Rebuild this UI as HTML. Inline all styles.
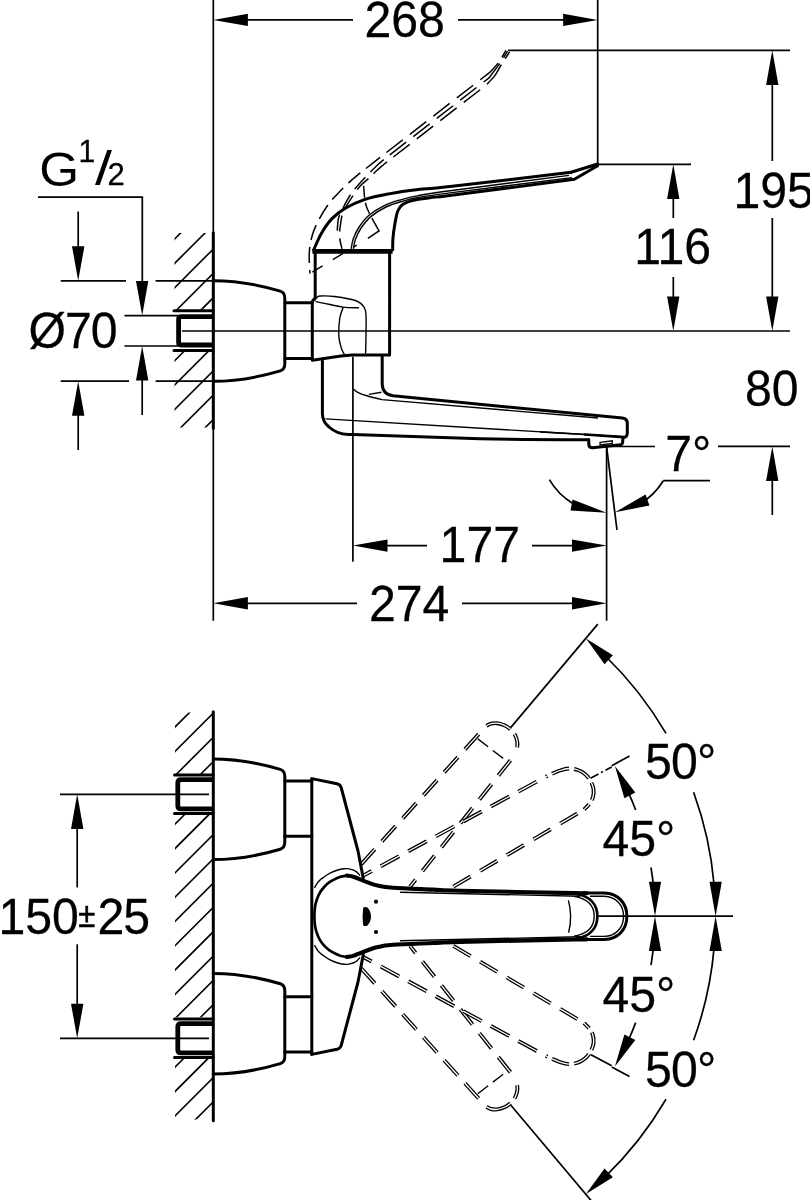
<!DOCTYPE html>
<html><head><meta charset="utf-8"><title>Drawing</title>
<style>
html,body{margin:0;padding:0;background:#fff;}
body{width:810px;height:1200px;overflow:hidden;}
svg{display:block;will-change:transform;}
svg text{font-family:"Liberation Sans",sans-serif;fill:#000;}
.t{stroke:#000;stroke-width:1.7;fill:none;}
.m{stroke:#000;stroke-width:3.0;fill:none;stroke-linejoin:round;stroke-linecap:round;}
.k{stroke:#000;stroke-width:4.8;fill:none;stroke-linejoin:round;}
.a{fill:#000;stroke:none;}
.f{stroke:#000;stroke-width:1.4;fill:none;}
.k2{stroke:#000;stroke-width:4.1;fill:none;stroke-linejoin:round;stroke-linecap:round;}
.n{stroke:#000;stroke-width:2.7;fill:none;stroke-linejoin:round;stroke-linecap:round;}
.d{stroke:#000;stroke-width:1;fill:none;stroke-dasharray:22 9;}
.h{stroke:#000;stroke-width:1.6;fill:none;}
</style></head><body>
<svg width="810" height="1200" viewBox="0 0 810 1200">
<path d="M361.1,864.4 L484.4,727.8" fill="none" stroke="#000" stroke-width="3.9" stroke-dasharray="20.5 10.5" stroke-dashoffset="0"/>
<path d="M361.1,864.4 L484.4,727.8" fill="none" stroke="#fff" stroke-width="1.3" stroke-dasharray="20.5 10.5" stroke-dashoffset="0"/>
<path d="M486.5,725.8 C487.2,725.4 489.2,724.0 491.0,723.6 C492.8,723.2 494.7,722.9 497.0,723.2 C499.3,723.5 502.6,724.5 505.0,725.6 C507.4,726.7 509.4,728.3 511.1,730.0 C512.9,731.7 514.5,734.0 515.5,736.0 C516.5,738.0 517.0,740.2 517.3,742.2 C517.5,744.2 517.4,746.2 517.0,748.0 C516.6,749.8 515.5,752.2 515.2,753.0" fill="none" stroke="#000" stroke-width="3.9" stroke-dasharray="26 6 14 6" stroke-dashoffset="0"/>
<path d="M486.5,725.8 C487.2,725.4 489.2,724.0 491.0,723.6 C492.8,723.2 494.7,722.9 497.0,723.2 C499.3,723.5 502.6,724.5 505.0,725.6 C507.4,726.7 509.4,728.3 511.1,730.0 C512.9,731.7 514.5,734.0 515.5,736.0 C516.5,738.0 517.0,740.2 517.3,742.2 C517.5,744.2 517.4,746.2 517.0,748.0 C516.6,749.8 515.5,752.2 515.2,753.0" fill="none" stroke="#fff" stroke-width="1.3" stroke-dasharray="26 6 14 6" stroke-dashoffset="0"/>
<path d="M514.2,755.6 L410.0,886.7" fill="none" stroke="#000" stroke-width="3.9" stroke-dasharray="19.5 11" stroke-dashoffset="24.5"/>
<path d="M514.2,755.6 L410.0,886.7" fill="none" stroke="#fff" stroke-width="1.3" stroke-dasharray="19.5 11" stroke-dashoffset="24.5"/>
<path d="M363.3,875.6 L547.4,775.9" fill="none" stroke="#000" stroke-width="3.9" stroke-dasharray="21 10.3" stroke-dashoffset="11.5"/>
<path d="M363.3,875.6 L547.4,775.9" fill="none" stroke="#fff" stroke-width="1.3" stroke-dasharray="21 10.3" stroke-dashoffset="11.5"/>
<path d="M552.0,773.8 C553.3,773.2 557.2,771.4 560.0,770.5 C562.8,769.6 566.0,768.6 569.0,768.5 C572.0,768.4 575.1,769.1 577.8,770.0 C580.5,770.9 582.9,772.2 585.0,774.0 C587.1,775.8 589.1,778.5 590.5,781.0 C591.9,783.5 593.1,786.3 593.5,789.0 C593.9,791.7 593.7,794.5 593.0,797.0 C592.3,799.5 591.0,801.7 589.5,803.8 C588.0,805.9 584.9,808.5 584.0,809.5" fill="none" stroke="#000" stroke-width="3.9" stroke-dasharray="18 5" stroke-dashoffset="0"/>
<path d="M552.0,773.8 C553.3,773.2 557.2,771.4 560.0,770.5 C562.8,769.6 566.0,768.6 569.0,768.5 C572.0,768.4 575.1,769.1 577.8,770.0 C580.5,770.9 582.9,772.2 585.0,774.0 C587.1,775.8 589.1,778.5 590.5,781.0 C591.9,783.5 593.1,786.3 593.5,789.0 C593.9,791.7 593.7,794.5 593.0,797.0 C592.3,799.5 591.0,801.7 589.5,803.8 C588.0,805.9 584.9,808.5 584.0,809.5" fill="none" stroke="#fff" stroke-width="1.3" stroke-dasharray="18 5" stroke-dashoffset="0"/>
<path d="M580.0,812.0 L453.3,886.7" fill="none" stroke="#000" stroke-width="3.9" stroke-dasharray="20 11" stroke-dashoffset="28"/>
<path d="M580.0,812.0 L453.3,886.7" fill="none" stroke="#fff" stroke-width="1.3" stroke-dasharray="20 11" stroke-dashoffset="28"/>
<line class="f" stroke-dasharray="13 6" x1="477.8" y1="738.9" x2="506.7" y2="761.1"/>
<line class="t" x1="510.9" y1="727.4" x2="597.8" y2="624.1"/>
<line class="t" stroke-dasharray="9 3 2 3" x1="590.5" y1="778.2" x2="611.7" y2="766.9"/>
<path d="M361.1,968.2 L484.4,1104.8" fill="none" stroke="#000" stroke-width="3.9" stroke-dasharray="20.5 10.5" stroke-dashoffset="0"/>
<path d="M361.1,968.2 L484.4,1104.8" fill="none" stroke="#fff" stroke-width="1.3" stroke-dasharray="20.5 10.5" stroke-dashoffset="0"/>
<path d="M486.5,1106.8 C487.2,1107.2 489.2,1108.6 491.0,1109.0 C492.8,1109.4 494.7,1109.7 497.0,1109.4 C499.3,1109.1 502.6,1108.1 505.0,1107.0 C507.4,1105.9 509.4,1104.3 511.1,1102.6 C512.9,1100.9 514.5,1098.6 515.5,1096.6 C516.5,1094.6 517.0,1092.4 517.3,1090.4 C517.5,1088.4 517.4,1086.4 517.0,1084.6 C516.6,1082.8 515.5,1080.4 515.2,1079.6" fill="none" stroke="#000" stroke-width="3.9" stroke-dasharray="26 6 14 6" stroke-dashoffset="0"/>
<path d="M486.5,1106.8 C487.2,1107.2 489.2,1108.6 491.0,1109.0 C492.8,1109.4 494.7,1109.7 497.0,1109.4 C499.3,1109.1 502.6,1108.1 505.0,1107.0 C507.4,1105.9 509.4,1104.3 511.1,1102.6 C512.9,1100.9 514.5,1098.6 515.5,1096.6 C516.5,1094.6 517.0,1092.4 517.3,1090.4 C517.5,1088.4 517.4,1086.4 517.0,1084.6 C516.6,1082.8 515.5,1080.4 515.2,1079.6" fill="none" stroke="#fff" stroke-width="1.3" stroke-dasharray="26 6 14 6" stroke-dashoffset="0"/>
<path d="M514.2,1077.0 L410.0,945.9" fill="none" stroke="#000" stroke-width="3.9" stroke-dasharray="19.5 11" stroke-dashoffset="24.5"/>
<path d="M514.2,1077.0 L410.0,945.9" fill="none" stroke="#fff" stroke-width="1.3" stroke-dasharray="19.5 11" stroke-dashoffset="24.5"/>
<path d="M363.3,957.0 L547.4,1056.7" fill="none" stroke="#000" stroke-width="3.9" stroke-dasharray="21 10.3" stroke-dashoffset="11.5"/>
<path d="M363.3,957.0 L547.4,1056.7" fill="none" stroke="#fff" stroke-width="1.3" stroke-dasharray="21 10.3" stroke-dashoffset="11.5"/>
<path d="M552.0,1058.8 C553.3,1059.3 557.2,1061.2 560.0,1062.1 C562.8,1063.0 566.0,1064.0 569.0,1064.1 C572.0,1064.2 575.1,1063.5 577.8,1062.6 C580.5,1061.7 582.9,1060.4 585.0,1058.6 C587.1,1056.8 589.1,1054.1 590.5,1051.6 C591.9,1049.1 593.1,1046.3 593.5,1043.6 C593.9,1040.9 593.7,1038.1 593.0,1035.6 C592.3,1033.1 591.0,1030.9 589.5,1028.8 C588.0,1026.7 584.9,1024.0 584.0,1023.1" fill="none" stroke="#000" stroke-width="3.9" stroke-dasharray="18 5" stroke-dashoffset="0"/>
<path d="M552.0,1058.8 C553.3,1059.3 557.2,1061.2 560.0,1062.1 C562.8,1063.0 566.0,1064.0 569.0,1064.1 C572.0,1064.2 575.1,1063.5 577.8,1062.6 C580.5,1061.7 582.9,1060.4 585.0,1058.6 C587.1,1056.8 589.1,1054.1 590.5,1051.6 C591.9,1049.1 593.1,1046.3 593.5,1043.6 C593.9,1040.9 593.7,1038.1 593.0,1035.6 C592.3,1033.1 591.0,1030.9 589.5,1028.8 C588.0,1026.7 584.9,1024.0 584.0,1023.1" fill="none" stroke="#fff" stroke-width="1.3" stroke-dasharray="18 5" stroke-dashoffset="0"/>
<path d="M580.0,1020.6 L453.3,945.9" fill="none" stroke="#000" stroke-width="3.9" stroke-dasharray="20 11" stroke-dashoffset="28"/>
<path d="M580.0,1020.6 L453.3,945.9" fill="none" stroke="#fff" stroke-width="1.3" stroke-dasharray="20 11" stroke-dashoffset="28"/>
<line class="f" stroke-dasharray="13 6" x1="477.8" y1="1093.6999999999998" x2="506.7" y2="1071.5"/>
<line class="t" x1="510.9" y1="1105.2" x2="597.8" y2="1208.5"/>
<line class="t"  x1="590.5" y1="1054.3999999999999" x2="611.7" y2="1065.6999999999998"/>
<path d="M505.9,50.4 C504.8,52.3 501.6,58.4 499.0,62.0 C496.4,65.6 491.8,70.2 490.4,71.9 L384.0,154.4 C382.4,155.7 378.4,158.7 374.1,162.1 C369.8,165.5 362.1,171.4 358.0,174.7 C353.9,178.0 352.9,178.8 349.4,182.1 C345.9,185.4 340.5,190.7 337.0,194.4 C333.5,198.1 331.5,200.0 328.4,204.3 C325.3,208.6 321.2,215.2 318.5,220.4 C315.8,225.6 313.8,229.8 312.3,235.2 C310.8,240.5 309.7,246.1 309.3,252.5 C308.9,258.9 309.8,270.0 309.9,273.5" fill="none" stroke="#000" stroke-width="1.5" stroke-dasharray="8 7 24.4 9 20.7 9 20.7 9 20.7 9 20.7 8 18 7 16 7 16 7 16 7 16 7 16 7"/>
<path d="M507.5,51.0 C506.7,52.4 504.4,56.6 502.5,59.5 C500.6,62.4 498.6,65.0 496.3,68.1 C494.1,71.2 490.2,76.3 489.0,77.9 L384.0,159.3 C382.8,160.4 379.8,162.8 376.5,166.0 C373.2,169.2 367.9,174.5 364.2,178.4 C360.5,182.3 357.2,185.8 354.3,189.5 C351.4,193.2 348.9,197.1 346.9,200.6 C344.8,204.1 343.4,207.4 342.0,210.5 C340.6,213.6 339.1,214.8 338.3,219.1 C337.5,223.3 337.2,233.2 337.0,236.0" fill="none" stroke="#000" stroke-width="1.5" stroke-dasharray="8 7 24.4 9 20.7 9 20.7 9 20.7 9 20.7 8 18 7 16 7 16 7 16 7 16 7 16 7"/>
<path d="M509.6,51.9 C508.1,54.2 503.0,62.0 500.5,66.0 C498.0,70.0 497.2,72.4 494.8,75.6 C492.4,78.8 487.5,83.6 486.0,85.2 L384.0,164.2 C382.8,165.3 379.2,168.3 376.5,170.8 C373.8,173.3 370.8,176.4 367.9,179.1 C365.0,181.8 362.4,183.3 359.3,187.0 C356.2,190.7 352.1,197.1 349.4,201.2 C346.7,205.3 344.6,208.1 343.2,211.7 C341.8,215.3 341.3,218.7 340.7,222.8 C340.1,226.9 339.3,232.1 339.5,236.4 C339.7,240.7 341.6,246.7 342.0,248.8" fill="none" stroke="#000" stroke-width="1.5" stroke-dasharray="8 7 24.4 9 20.7 9 20.7 9 20.7 9 20.7 8 18 7 16 7 16 7 16 7 16 7 16 7"/>
<path d="M363.6,185.8 C363.9,188.7 364.3,198.2 365.4,203.1 C366.5,208.0 368.1,210.8 370.4,215.4 C372.7,220.0 377.6,228.3 379.0,230.9 L367.9,238.3" fill="none" stroke="#000" stroke-width="1.5" stroke-dasharray="12 5 12 5 28 100"/>
<path d="M312.3,272.2 L356.8,245.1" fill="none" stroke="#000" stroke-width="1.5" stroke-dasharray="12 12"/>
<line class="t" x1="213.3" y1="0.0" x2="213.3" y2="620.7"/>
<line class="t" x1="597.7" y1="0.0" x2="597.7" y2="164.3"/>
<line class="t" x1="508.0" y1="50.3" x2="790.0" y2="50.3"/>
<line class="t" x1="597.7" y1="164.3" x2="691.0" y2="164.3"/>
<line class="t" x1="182.0" y1="331.0" x2="790.0" y2="331.0"/>
<line class="t" x1="352.9" y1="356.7" x2="352.9" y2="561.7"/>
<line class="t" x1="606.6" y1="446.7" x2="606.6" y2="620.7"/>
<line class="t" x1="606.6" y1="446.7" x2="617.0" y2="530.0"/>
<line class="t" x1="607.0" y1="446.5" x2="655.0" y2="446.5"/>
<line class="t" x1="718.0" y1="446.4" x2="790.0" y2="446.4"/>
<polygon class="a" points="213.3,19.9 247.9,13.7 247.9,26.0"/>
<line class="t" x1="247.0" y1="19.9" x2="353.0" y2="19.9"/>
<text transform="translate(404.7,36.9) scale(0.988,1.006)" font-size="48.8" text-anchor="middle" stroke="#000" stroke-width="0.25" >268</text>
<line class="t" x1="458.0" y1="19.9" x2="564.0" y2="19.9"/>
<polygon class="a" points="597.7,19.9 563.1,26.0 563.1,13.7"/>
<polygon class="a" points="772.3,50.3 778.4,84.9 766.1,84.9"/>
<line class="t" x1="772.3" y1="84.0" x2="772.3" y2="161.0"/>
<line class="t" x1="772.3" y1="218.0" x2="772.3" y2="297.0"/>
<polygon class="a" points="772.3,331.0 766.1,296.4 778.4,296.4"/>
<text transform="translate(733.4,207.8) scale(0.988,1.006)" font-size="48.8" text-anchor="start" stroke="#000" stroke-width="0.25" >195</text>
<polygon class="a" points="673.3,164.3 679.4,198.9 667.1,198.9"/>
<line class="t" x1="673.3" y1="198.0" x2="673.3" y2="218.0"/>
<line class="t" x1="673.3" y1="277.0" x2="673.3" y2="297.0"/>
<polygon class="a" points="673.3,331.0 667.1,296.4 679.4,296.4"/>
<text transform="translate(672.6,264.0) scale(0.988,1.006)" font-size="48.8" text-anchor="middle" stroke="#000" stroke-width="0.25" >116</text>
<text transform="translate(771.7,405.9) scale(0.988,1.006)" font-size="48.8" text-anchor="middle" stroke="#000" stroke-width="0.25" >80</text>
<polygon class="a" points="772.3,446.4 778.4,481.0 766.1,481.0"/>
<line class="t" x1="772.3" y1="480.0" x2="772.3" y2="515.0"/>
<text transform="translate(665.3,470.6) scale(0.988,1.006)" font-size="48.8" text-anchor="start" stroke="#000" stroke-width="0.25" >7°</text>
<line class="t" x1="663.3" y1="480.7" x2="710.0" y2="480.7"/>
<path class="t" d="M663.3,480.7 A66,66 0 0 1 639.6,503.9"/>
<path class="t" d="M549.4,479.7 A66,66 0 0 0 573.6,503.9"/>
<polygon class="a" points="606.6,512.7 572.5,499.5 570.5,510.5"/>
<polygon class="a" points="615.0,512.3 645.5,494.5 649.5,505.5"/>
<polygon class="a" points="352.9,545.6 387.5,539.5 387.5,551.8"/>
<line class="t" x1="386.0" y1="545.6" x2="427.0" y2="545.6"/>
<text transform="translate(479.8,562.1) scale(0.988,1.006)" font-size="48.8" text-anchor="middle" stroke="#000" stroke-width="0.25" >177</text>
<line class="t" x1="532.0" y1="545.6" x2="573.0" y2="545.6"/>
<polygon class="a" points="606.6,545.6 572.0,551.8 572.0,539.5"/>
<polygon class="a" points="213.3,603.3 247.9,597.1 247.9,609.4"/>
<line class="t" x1="247.0" y1="603.3" x2="357.0" y2="603.3"/>
<text transform="translate(409.2,620.8) scale(0.988,1.006)" font-size="48.8" text-anchor="middle" stroke="#000" stroke-width="0.25" >274</text>
<line class="t" x1="462.0" y1="603.3" x2="573.0" y2="603.3"/>
<polygon class="a" points="606.6,603.3 572.0,609.4 572.0,597.1"/>
<text transform="translate(39.2,185.9) scale(1.05,1)" font-size="48.8">G</text>
<text transform="translate(78.4,162.0) scale(0.988,1.006)" font-size="30.5" text-anchor="start" stroke="#000" stroke-width="0.25" >1</text>
<text transform="translate(95,185.3) scale(1.25,0.97)" font-size="48.8">/</text>
<text transform="translate(107.5,185.3) scale(0.988,1.006)" font-size="31.5" text-anchor="start" stroke="#000" stroke-width="0.25" >2</text>
<path class="t" d="M38,197.2 H142.3 V282"/>
<polygon class="a" points="142.2,315.6 136.0,281.0 148.3,281.0"/>
<polygon class="a" points="142.2,346.0 148.3,380.6 136.0,380.6"/>
<line class="t" x1="142.2" y1="379.0" x2="142.2" y2="415.0"/>
<line class="t" x1="78.2" y1="211.5" x2="78.2" y2="248.0"/>
<polygon class="a" points="78.2,280.8 72.0,246.2 84.4,246.2"/>
<polygon class="a" points="78.2,381.2 84.4,415.8 72.0,415.8"/>
<line class="t" x1="78.2" y1="415.0" x2="78.2" y2="450.0"/>
<line class="t" x1="60.7" y1="280.8" x2="126.0" y2="280.8"/>
<line class="t" x1="155.6" y1="280.8" x2="213.0" y2="280.8"/>
<line class="t" x1="60.7" y1="381.2" x2="129.0" y2="381.2"/>
<line class="t" x1="155.6" y1="381.2" x2="213.0" y2="381.2"/>
<line class="t" x1="124.4" y1="315.6" x2="178.0" y2="315.6"/>
<line class="t" x1="124.4" y1="346.0" x2="178.0" y2="346.0"/>
<text transform="translate(28.5,348.0) scale(0.988,1.006)" font-size="48.8" text-anchor="start" stroke="#000" stroke-width="0.25" letter-spacing="-1">Ø70</text>
<clipPath id="c1"><path d="M174.5,233 H213 V309.8 H174.5 Z M174.5,351.5 H213 V427.5 H174.5 Z"/></clipPath>
<g clip-path="url(#c1)">
<line class="h" x1="150.0" y1="263.6" x2="230.0" y2="183.6"/>
<line class="h" x1="150.0" y1="288.0" x2="230.0" y2="208.0"/>
<line class="h" x1="150.0" y1="312.3" x2="230.0" y2="232.3"/>
<line class="h" x1="150.0" y1="336.7" x2="230.0" y2="256.7"/>
<line class="h" x1="150.0" y1="361.0" x2="230.0" y2="281.0"/>
<line class="h" x1="150.0" y1="385.4" x2="230.0" y2="305.4"/>
<line class="h" x1="150.0" y1="409.7" x2="230.0" y2="329.7"/>
<line class="h" x1="150.0" y1="434.1" x2="230.0" y2="354.1"/>
<line class="h" x1="150.0" y1="458.4" x2="230.0" y2="378.4"/>
<line class="h" x1="150.0" y1="482.8" x2="230.0" y2="402.8"/>
</g>
<line class="m" x1="213.3" y1="232.8" x2="213.3" y2="428.3"/>
<line class="m" x1="174.0" y1="310.8" x2="213.0" y2="310.8"/>
<line class="m" x1="174.0" y1="350.6" x2="213.0" y2="350.6"/>
<path class="k" d="M213,316.6 H181 Q178.6,316.6 178.6,319 V342.6 Q178.6,345 181,345 H213"/>
<path class="m" d="M213.3,280.7 C235.0,280.7 262.0,285.7 280.3,291.1 Q284.8,292.5 284.8,298.2 V363.8 Q284.8,369.5 280.3,370.9 C262.0,376.3 235.0,381.3 213.3,381.3"/>
<line class="m" x1="285.0" y1="302.7" x2="312.5" y2="302.7"/>
<line class="m" x1="285.0" y1="358.4" x2="312.5" y2="358.4"/>
<path class="m" d="M315.2,251 V297.6 L312.3,301.4 V360.3 L341,356 L352,354.9 H389.6 V251"/>
<line class="k" x1="312.4" y1="251.4" x2="392.6" y2="251.4"/>
<path class="f" d="M314.4,301.1 C314.8,300.6 315.6,298.9 316.5,298.0 C317.4,297.1 317.0,296.2 320.0,296.0 C323.0,295.8 328.3,295.7 334.4,296.5 C340.5,297.3 351.7,299.1 356.7,301.0 C361.7,302.9 362.8,305.4 364.4,307.8 C365.9,310.2 365.7,311.1 366.0,315.6 C366.3,320.1 366.1,328.7 366.0,335.0 C365.9,341.3 365.7,350.4 365.6,353.5"/>
<path class="f" d="M315.6,301.6 C318.0,302.1 325.4,303.6 330.0,304.5 C334.6,305.4 338.5,306.6 343.3,307.1 C348.1,307.7 356.3,307.7 358.9,307.8"/>
<path class="f" d="M343.3,307.1 C342.7,308.9 340.6,313.2 339.8,318.0 C339.1,322.8 338.5,330.5 338.8,335.6 C339.1,340.8 340.6,345.7 341.6,348.9 C342.6,352.1 344.1,353.7 344.6,354.6"/>
<path class="m" d="M322.4,360.5 V414 Q322.7,422 329,427 Q337,434.2 348,434.4 L353,434.5 C400,435.8 440,437.3 480,438.7 C520,439.5 560,439.6 588.3,439.7"/>
<path class="m" d="M382.2,355.5 V384 Q382.5,394.5 393,395.8 L622.5,418.1 Q627.3,418.6 627.3,423.5 V433 Q627.3,437.2 623.5,437.4"/>
<path class="f" d="M353.3,388.9 Q358,393.5 366,395.5 Q372,397.5 382,399.6 L598,418"/>
<line class="f" x1="368.9" y1="394.4" x2="381.5" y2="392.2"/>
<line class="f" x1="325.6" y1="418.9" x2="623.0" y2="436.8"/>
<path class="m" d="M588.8,439.6 L588.8,444.4 Q589,447.9 592.6,447.8 L620.3,444.8 Q622.5,444.5 622.6,442.3 L623,437.7"/>
<line class="t" x1="540.0" y1="431.8" x2="585.0" y2="434.5"/>
<line class="n" x1="585.0" y1="434.5" x2="623.8" y2="437.1"/>
<path class="f" d="M600.1,442.4 L612.2,440.8 L612.2,443.4 L600.1,445.0 Z"/>
<path class="m" d="M313.7,249.8 C315.0,247.0 318.6,238.1 321.6,233.0 C324.6,227.9 327.6,223.2 331.5,219.1 C335.4,215.0 339.7,211.6 345.3,208.3 C350.9,205.0 357.9,201.8 365.1,199.4 C372.4,197.0 379.9,195.6 388.8,193.9 C397.7,192.2 408.2,190.7 418.4,189.5 C428.6,188.3 424.6,189.5 450.0,186.6 C475.4,183.7 550.9,174.6 571.1,172.2"/>
<path class="m" d="M571.1,172.2 L597.6,164 L597.6,165.8 L574.4,179.3 L440,196.7"/>
<path class="m" d="M440.0,196.7 C438.1,196.9 432.9,197.3 428.3,198.0 C423.7,198.7 416.8,199.5 412.5,200.6 C408.2,201.7 405.1,202.7 402.6,204.5 C400.1,206.3 399.0,207.8 397.7,211.2 C396.4,214.6 395.5,220.4 394.7,225.0 C393.9,229.6 393.2,234.8 392.9,238.9 C392.6,243.0 392.7,248.0 392.7,249.8"/>
<path class="f" d="M351.2,248.8 C351.5,247.2 351.9,242.5 353.2,238.9 C354.5,235.3 356.5,230.9 359.1,227.0 C361.7,223.1 364.7,218.8 369.0,215.2 C373.3,211.6 379.5,207.9 384.8,205.3 C390.1,202.7 395.0,201.4 400.6,199.8 C406.2,198.2 410.2,197.1 418.4,195.6 C426.6,194.1 424.9,194.2 450.0,190.8 C475.1,187.4 549.2,178.0 569.0,175.4"/>
<path class="f" d="M353.4,248.8 C353.7,247.2 354.1,243.0 355.4,239.5 C356.7,236.0 358.5,231.8 361.1,228.0 C363.7,224.2 366.7,220.1 370.8,216.6 C374.9,213.1 380.9,209.5 386.0,207.0 C391.1,204.5 395.9,203.1 401.4,201.5 C406.9,199.9 410.9,198.7 419.0,197.3 C427.1,195.9 424.5,196.2 450.0,192.9 C475.5,189.6 551.7,180.2 572.0,177.6"/>
<clipPath id="c2"><path d="M175,712.5 H213 V774 H175 Z M175,814.5 H213 V1017.3 H175 Z M175,1058.5 H213 V1119.5 H175 Z"/></clipPath>
<g clip-path="url(#c2)">
<line class="h" x1="150.0" y1="752.0" x2="230.0" y2="672.0"/>
<line class="h" x1="150.0" y1="776.3" x2="230.0" y2="696.3"/>
<line class="h" x1="150.0" y1="800.6" x2="230.0" y2="720.6"/>
<line class="h" x1="150.0" y1="824.9" x2="230.0" y2="744.9"/>
<line class="h" x1="150.0" y1="849.2" x2="230.0" y2="769.2"/>
<line class="h" x1="150.0" y1="873.5" x2="230.0" y2="793.5"/>
<line class="h" x1="150.0" y1="897.8" x2="230.0" y2="817.8"/>
<line class="h" x1="150.0" y1="922.1" x2="230.0" y2="842.1"/>
<line class="h" x1="150.0" y1="946.4" x2="230.0" y2="866.4"/>
<line class="h" x1="150.0" y1="970.7" x2="230.0" y2="890.7"/>
<line class="h" x1="150.0" y1="995.0" x2="230.0" y2="915.0"/>
<line class="h" x1="150.0" y1="1019.3" x2="230.0" y2="939.3"/>
<line class="h" x1="150.0" y1="1043.6" x2="230.0" y2="963.6"/>
<line class="h" x1="150.0" y1="1067.9" x2="230.0" y2="987.9"/>
<line class="h" x1="150.0" y1="1092.2" x2="230.0" y2="1012.2"/>
<line class="h" x1="150.0" y1="1116.5" x2="230.0" y2="1036.5"/>
<line class="h" x1="150.0" y1="1140.8" x2="230.0" y2="1060.8"/>
<line class="h" x1="150.0" y1="1165.1" x2="230.0" y2="1085.1"/>
</g>
<line class="m" x1="213.3" y1="711.7" x2="213.3" y2="1120.7"/>
<line class="m" x1="174.5" y1="775.0" x2="213.0" y2="775.0"/>
<line class="m" x1="174.5" y1="813.6" x2="213.0" y2="813.6"/>
<path class="k" d="M213,779.7 H181 Q177.8,779.7 177.8,782.9 V805.7 Q177.8,808.9 181,808.9 H213"/>
<line class="m" x1="174.5" y1="1019.0" x2="213.0" y2="1019.0"/>
<line class="m" x1="174.5" y1="1057.6" x2="213.0" y2="1057.6"/>
<path class="k" d="M213,1023.7 H181 Q177.8,1023.7 177.8,1026.9 V1049.7 Q177.8,1052.9 181,1052.9 H213"/>
<line class="t" x1="60.0" y1="794.3" x2="209.0" y2="794.3"/>
<line class="t" x1="60.0" y1="1038.3" x2="209.0" y2="1038.3"/>
<polygon class="a" points="77.2,794.3 83.4,828.9 71.0,828.9"/>
<line class="t" x1="77.2" y1="828.0" x2="77.2" y2="887.4"/>
<line class="t" x1="77.2" y1="944.3" x2="77.2" y2="1005.0"/>
<polygon class="a" points="77.2,1038.3 71.0,1003.7 83.4,1003.7"/>
<text transform="translate(-1.5,933.7) scale(0.988,1.006)" font-size="48.8" text-anchor="start" stroke="#000" stroke-width="0.25" >150</text>
<text transform="translate(78.3,927.4) scale(1,1.14)" font-size="31" stroke="#000" stroke-width="0.5">±</text>
<text transform="translate(97.5,933.7) scale(0.988,1.006)" font-size="48.8" text-anchor="start" stroke="#000" stroke-width="0.25" letter-spacing="-1">25</text>
<path class="m" d="M213.3,759.0 C235.0,759.0 262.0,764.0 280.3,769.4 Q284.8,770.8 284.8,776.5 V842.1 Q284.8,847.8 280.3,849.2 C262.0,854.6 235.0,859.6 213.3,859.6"/>
<path class="m" d="M213.3,973.4 C235.0,973.4 262.0,978.4 280.3,983.8 Q284.8,985.2 284.8,990.9 V1056.5 Q284.8,1062.2 280.3,1063.6 C262.0,1069.0 235.0,1074.0 213.3,1074.0"/>
<line class="m" x1="284.8" y1="781.0" x2="311.8" y2="781.0"/>
<line class="m" x1="284.8" y1="836.2" x2="311.8" y2="836.2"/>
<line class="m" x1="284.8" y1="996.8" x2="311.8" y2="996.8"/>
<line class="m" x1="284.8" y1="1052.0" x2="311.8" y2="1052.0"/>
<line class="m" x1="311.8" y1="779.0" x2="311.8" y2="1054.0"/>
<path class="m" d="M311.8,778.6 L337,783.7 Q340.5,784.5 341.3,788 L358,851 L363.2,878"/>
<path class="m" d="M311.8,1054.4 L337,1049.3 Q340.5,1048.5 341.3,1045 L358,982 L363.2,955"/>
<path class="f" d="M314.4,887.8 C315.1,886.8 316.8,883.4 318.5,881.5 C320.2,879.6 322.4,878.2 324.4,876.7 C326.4,875.2 328.3,873.9 330.5,872.8 C332.7,871.7 335.6,870.7 337.8,870.0 C340.1,869.3 342.1,869.0 344.0,868.8 C345.9,868.6 347.0,868.5 348.9,868.9 C350.8,869.3 353.8,870.0 355.6,871.1 C357.5,872.2 359.3,874.9 360.0,875.6"/>
<path class="f" d="M314.4,945.2 C315.1,946.2 316.8,949.6 318.5,951.5 C320.2,953.4 322.4,954.8 324.4,956.3 C326.4,957.8 328.3,959.1 330.5,960.2 C332.7,961.3 335.6,962.3 337.8,963.0 C340.1,963.7 342.1,964.0 344.0,964.2 C345.9,964.4 347.0,964.5 348.9,964.1 C350.8,963.7 353.8,963.0 355.6,961.9 C357.5,960.8 359.3,958.1 360.0,957.4"/>
<path class="n" d="M346.7,875.6 C345.8,875.8 342.9,876.1 341.0,876.6 C339.1,877.1 337.5,878.0 335.6,878.9 C333.7,879.8 331.4,880.9 329.5,882.2 C327.6,883.5 326.0,885.0 324.4,886.7 C322.8,888.4 321.3,890.3 320.0,892.5 C318.7,894.7 317.5,897.6 316.7,900.0 C315.9,902.4 315.4,904.2 315.0,907.0 C314.6,909.8 314.4,913.4 314.4,916.5 C314.4,919.6 314.6,922.9 315.0,925.6 C315.4,928.3 315.9,930.2 316.7,932.6 C317.5,935.0 318.7,937.9 320.0,940.1 C321.3,942.3 322.8,944.2 324.4,945.9 C326.0,947.6 327.6,949.1 329.5,950.4 C331.4,951.7 333.7,952.8 335.6,953.7 C337.5,954.6 339.1,955.4 341.0,956.0 C342.9,956.5 345.8,956.8 346.7,957.0"/>
<path class="k2" d="M346.7,875.6 C347.8,875.8 350.4,875.8 353.3,876.7 C356.2,877.6 360.3,879.6 364.4,881.1 C368.5,882.6 373.0,884.5 377.8,885.6 C382.6,886.7 384.1,887.1 393.3,887.8 C402.6,888.5 422.2,889.1 433.3,889.6 C444.4,890.1 436.4,890.1 460.0,890.7 C483.6,891.3 554.3,892.7 575.0,893.1 C595.7,893.5 582.5,893.1 584.0,893.1"/>
<path class="k2" d="M346.7,957.0 C347.8,956.8 350.4,956.8 353.3,955.9 C356.2,955.0 360.3,953.0 364.4,951.5 C368.5,950.0 373.0,948.1 377.8,947.0 C382.6,945.9 384.1,945.5 393.3,944.8 C402.6,944.1 422.2,943.5 433.3,943.0 C444.4,942.5 436.4,942.5 460.0,941.9 C483.6,941.3 554.3,939.9 575.0,939.5 C595.7,939.1 582.5,939.5 584.0,939.5"/>
<path class="m" d="M584,893 L604.4,893 C618,893.5 626.9,903 626.9,916.3 C626.9,929.6 618,939.1 604.4,939.6 L584,939.6"/>
<path class="f" d="M590,896.2 L604,896.2 C616,896.6 623.6,905 623.6,916.3 C623.6,927.6 616,936 604,936.4 L590,936.4"/>
<path class="n" d="M577,894.2 C590,896.5 597.4,904.5 597.4,916.3 C597.4,928.1 590,936.1 577,938.4"/>
<path class="f" d="M574,896.4 C587,898.5 594.2,905.5 594.2,916.3 C594.2,927.1 587,934.1 574,936.2"/>
<path class="f" d="M568.4,900.4 Q572.8,916.3 568.6,932.6"/>
<line class="f" x1="400.0" y1="892.3" x2="580.0" y2="896.2"/>
<line class="f" x1="400.0" y1="940.7" x2="580.0" y2="936.8"/>
<line class="t" x1="598.5" y1="916.1" x2="733.0" y2="916.1"/>
<path d="M363.2,907.4 Q362,916.5 363.2,925.6 Q365,926.6 367.5,925.6 Q371,921.5 371,916.5 Q371,911.5 367.5,907.4 Q365,906.4 363.2,907.4 Z" fill="#000"/>
<circle cx="376" cy="901.7" r="2.1" fill="#000"/><circle cx="376" cy="932" r="2.1" fill="#000"/>
<path class="t" d="M714.1,884.7 A362.5,362.5 0 0 0 693.6,792.3"/>
<path class="t" d="M666.0,733.4 A362.5,362.5 0 0 0 604.8,655.5"/>
<path class="t" d="M653.6,887.4 A302,302 0 0 0 651.0,867.5"/>
<path class="t" d="M635.7,810.0 A302,302 0 0 0 627.8,791.1"/>
<polygon class="a" points="715.6,916.3 709.5,881.7 721.8,881.7"/>
<polygon class="a" points="655.0,916.3 648.9,881.7 661.1,881.7"/>
<polygon class="a" points="586.0,638.6 612.9,655.3 604.5,664.2"/>
<polygon class="a" points="614.9,766.0 635.3,792.6 624.4,798.2"/>
<line class="t" x1="611.7" y1="765.7" x2="629.5" y2="756.1"/>
<path class="t" d="M714.1,947.9 A362.5,362.5 0 0 1 693.6,1040.3"/>
<path class="t" d="M666.0,1099.2 A362.5,362.5 0 0 1 604.8,1177.1"/>
<path class="t" d="M653.6,945.2 A302,302 0 0 1 651.0,965.1"/>
<path class="t" d="M635.7,1022.6 A302,302 0 0 1 627.8,1041.5"/>
<polygon class="a" points="715.6,916.3 721.8,950.9 709.5,950.9"/>
<polygon class="a" points="655.0,916.3 661.1,950.9 648.9,950.9"/>
<polygon class="a" points="586.0,1194.0 604.5,1168.4 612.9,1177.3"/>
<polygon class="a" points="614.9,1066.6 624.4,1034.4 635.3,1040.0"/>
<line class="t" x1="611.7" y1="1066.9" x2="629.5" y2="1076.5"/>
<text transform="translate(645.0,779.4) scale(0.988,1.006)" font-size="48.8" text-anchor="start" stroke="#000" stroke-width="0.25" letter-spacing="-0.8">50°</text>
<text transform="translate(645.0,1087.4) scale(0.988,1.006)" font-size="48.8" text-anchor="start" stroke="#000" stroke-width="0.25" letter-spacing="-0.8">50°</text>
<text transform="translate(602.5,855.8) scale(0.988,1.006)" font-size="48.8" text-anchor="start" stroke="#000" stroke-width="0.25" >45°</text>
<text transform="translate(602.5,1011.6) scale(0.988,1.006)" font-size="48.8" text-anchor="start" stroke="#000" stroke-width="0.25" >45°</text>
</svg>
</body></html>
